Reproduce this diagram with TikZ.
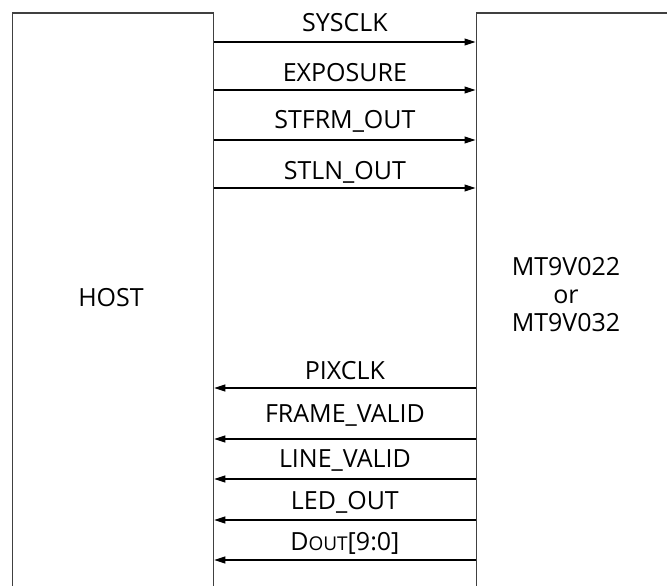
\documentclass[tikz,border=0pt]{standalone}
\usepackage{fontspec}
\setmainfont{Open Sans}
\usetikzlibrary{arrows.meta}

\tikzset{%
  every block/.style={
    draw=black!75,
    line width=1.6pt,
    anchor=north west,
    minimum height=600pt
  },
  block label/.style={
    align=center,
    font=\fontsize{25}{28}\selectfont
  },
  signal/.style={
    ->,
    line width=1.1pt
  },
  signal label/.style={
    inner sep=0pt,
    text depth=0pt,
    font=\fontsize{25}{28}\selectfont
  },
}

\begin{document}
\begin{tikzpicture}[x=1pt, y=-1pt, >={Triangle[length=11pt,width=7pt]}]
\useasboundingbox (0,0) rectangle (667,586);

\node [every block, minimum width=201pt] (host) at (11.7,12.3) {};
\node [every block, minimum width=220pt] (sensor) at (475.5,12.3) {};

\node [block label] (host-name) at (111,298) {HOST};
\node [block label] (sensor-name) at (566,295) {MT9V022\\or\\MT9V032};

% host to sensor
\foreach \y/\d/\l in {42/10/SYSCLK, 90/8.3/EXPOSURE, 140/10.7/STFRM\_OUT, 188/8/STLN\_OUT}
  \draw [signal] (host.east |- 0,\y) -- (sensor.west |- 0,\y)
    node [signal label, above=\d pt, midway] {\l};

% sensor to host
\foreach \y/\d/\l in {388/8.3/PIXCLK, 439/16/FRAME\_VALID, 479/11/LINE\_VALID, 520/10/LED\_OUT,
  560/9.3/D{\fontsize{19}{20}\selectfont OUT}[9:0]}
  \draw [signal] (sensor.west |- 0,\y) -- (host.east |- 0,\y)
    node [signal label, above=\d pt, midway] {\l};

\end{tikzpicture}
\end{document}
